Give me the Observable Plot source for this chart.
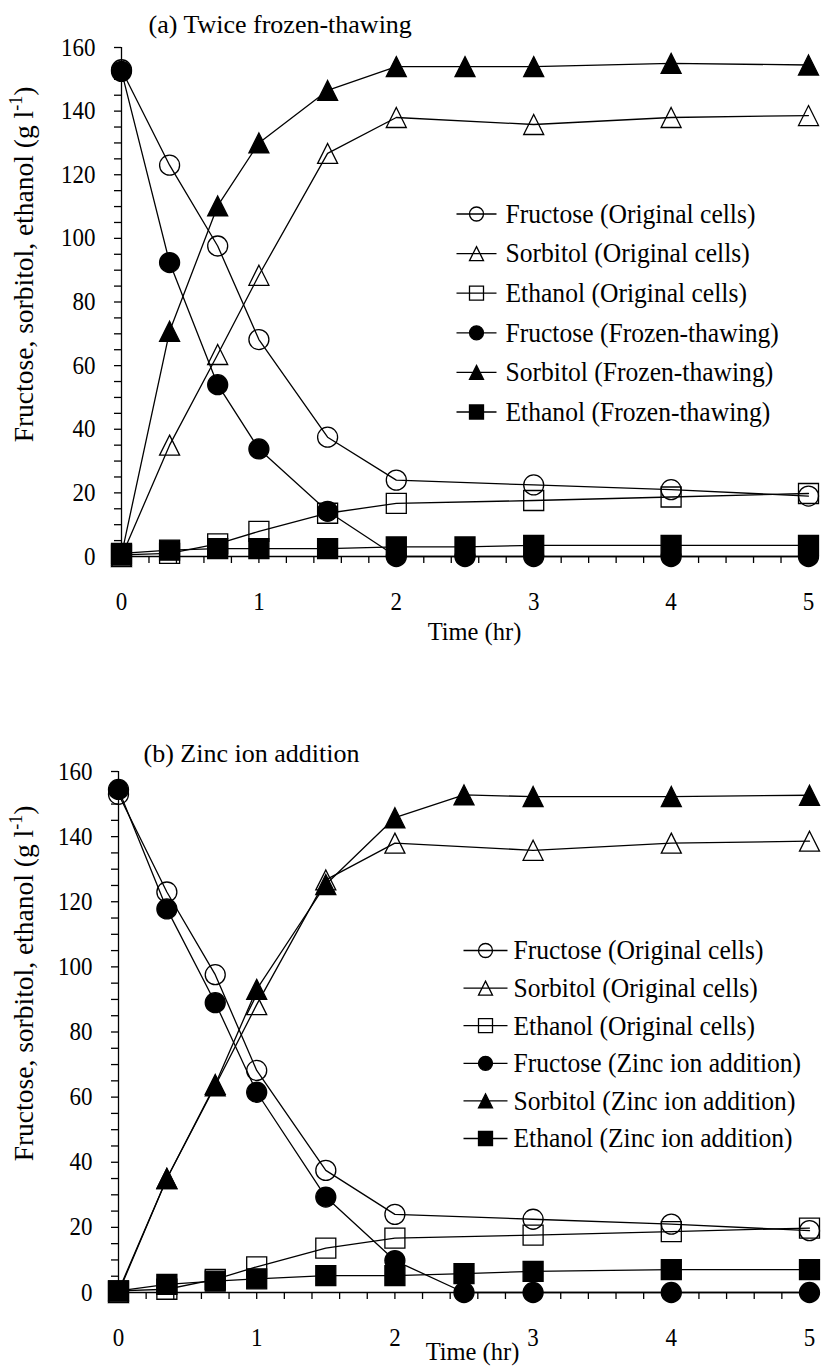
<!DOCTYPE html>
<html>
<head>
<meta charset="utf-8">
<script src="https://cdn.jsdelivr.net/npm/d3@7"></script>
<script src="https://cdn.jsdelivr.net/npm/@observablehq/plot@0.6"></script>
<style>
  html, body { margin: 0; padding: 0; background: #fff; overflow: hidden; }
  #chart svg { display: block; }
  #chart svg, #chart svg text, #chart svg tspan {
    font-family: "Liberation Serif", "Times New Roman", serif !important;
  }
</style>
</head>
<body>
<div id="chart"></div>
<script>
// Sampling times (hr)
const timeOriginal = [0, 0.35, 0.7, 1, 1.5, 2, 3, 4, 5];
const timeTreated  = [0, 0.35, 0.7, 1, 1.5, 2, 2.5, 3, 4, 5];

// Original cells (g l-1)
const fructoseOriginal = [153, 123, 97.6, 68.2, 37.5, 24, 22.5, 21, 19];
const sorbitolOriginal = [0, 35, 63.5, 88.4, 126.7, 138, 135.8, 138, 138.6];
const ethanolOriginal  = [0.5, 1, 4, 7.9, 13.6, 16.7, 17.6, 18.7, 19.8];

// Twice frozen-thawing cells (g l-1)
const fructoseFrozen = [152.5, 92.4, 54, 33.8, 14.2, 0, 0, 0, 0, 0];
const sorbitolFrozen = [0.5, 70.8, 110.2, 130, 146.5, 154, 154, 154, 155, 154.5];
const ethanolFrozen  = [1, 2, 2.5, 2.5, 2.5, 3, 3, 3.5, 3.5, 3.5];

// Zinc ion addition (g l-1)
const fructoseZinc = [154.5, 117.8, 89, 61.5, 29.3, 9.8, 0, 0, 0, 0];
const sorbitolZinc = [0.5, 35, 63.9, 93.1, 125.3, 145.8, 152.8, 152.3, 152.3, 152.7];
const ethanolZinc  = [0.5, 2.5, 3.5, 4.2, 5.2, 5.2, 5.8, 6.5, 7, 7];

// Axis ticks
const yTicks = d3.range(0, 33).map(i => i * 5);
const xTicks = d3.range(0, 26).map(i => i / 5);

const panelTitles = ["(a) Twice frozen-thawing", "(b) Zinc ion addition"];
const treatmentNames = ["Frozen-thawing", "Zinc ion addition"];
const xLabel = "Time (hr)";
const yLabel = "Fructose, sorbitol, ethanol (g l";
const yLabelSup = "-1";

// Marker shapes drawn around the point; optional horizontal line for legend keys
function makeSymbol(shape, lineHalf = 0) {
  return {
    draw(ctx, size) {
      const r = Math.sqrt(size / Math.PI);
      if (lineHalf) { ctx.moveTo(-lineHalf, 0); ctx.lineTo(lineHalf, 0); }
      if (shape === "circle") {
        ctx.moveTo(r, 0);
        ctx.arc(0, 0, r, 0, 2 * Math.PI);
      } else if (shape === "square") {
        ctx.rect(-r, -r, 2 * r, 2 * r);
      } else {
        ctx.moveTo(0, -r);
        ctx.lineTo(r, r);
        ctx.lineTo(-r, r);
        ctx.closePath();
      }
    }
  };
}

function seriesFor(treatment, fru, sor, eth) {
  return [
    {label: "Fructose (Original cells)", times: timeOriginal, values: fructoseOriginal, shape: "circle", filled: false},
    {label: "Sorbitol (Original cells)", times: timeOriginal, values: sorbitolOriginal, shape: "triangle", filled: false},
    {label: "Ethanol (Original cells)", times: timeOriginal, values: ethanolOriginal, shape: "square", filled: false},
    {label: `Fructose (${treatment})`, times: timeTreated, values: fru, shape: "circle", filled: true},
    {label: `Sorbitol (${treatment})`, times: timeTreated, values: sor, shape: "triangle", filled: true},
    {label: `Ethanol (${treatment})`, times: timeTreated, values: eth, shape: "square", filled: true}
  ];
}

const panels = [
  {
    title: panelTitles[0],
    series: seriesFor(treatmentNames[0], fructoseFrozen, sorbitolFrozen, ethanolFrozen),
    height: 660, marginTop: 47, marginBottom: 104, marginLeft: 121, marginRight: 13,
    titleOffset: [27, -23], xLabelOffset: [353, 76], yLabelOffset: [-97, 217],
    legend: {top: 166.5, gap: 39.6, marker: 355, half: 20, text: 384}
  },
  {
    title: panelTitles[1],
    series: seriesFor(treatmentNames[1], fructoseZinc, sorbitolZinc, ethanolZinc),
    height: 712, marginTop: 111, marginBottom: 80, marginLeft: 118, marginRight: 12,
    titleOffset: [25, -18], xLabelOffset: [354, 60], yLabelOffset: [-94, 212],
    legend: {top: 179, gap: 37.6, marker: 367, half: 22, text: 395}
  }
];

const FONT = "Liberation Serif, Times New Roman, serif";

// Narrow the set width of a text element around its anchor
function condenseText(t, sx) {
  const tr = t.getAttribute("transform");
  if (tr) {
    t.setAttribute("transform", `${tr} scale(${sx},1)`);
  } else {
    const x = +t.getAttribute("x") || 0, y = +t.getAttribute("y") || 0;
    t.removeAttribute("x"); t.removeAttribute("y");
    t.setAttribute("transform", `translate(${x},${y}) scale(${sx},1)`);
  }
}

function drawPanel(p) {
  const rows = p.series.flatMap(s => s.times.map((t, i) => ({series: s.label, t, v: s.values[i]})));
  const lg = p.legend;

  const marks = [
    Plot.ruleX([0], {stroke: "black", strokeWidth: 1.3}),
    Plot.ruleY([0], {stroke: "black", strokeWidth: 1.3}),
    Plot.axisY({
      ticks: yTicks, tickSize: 7, tickPadding: 19, strokeWidth: 1.3,
      tickFormat: d => (d % 20 === 0 ? String(d) : ""), label: null, fontSize: 25
    }),
    Plot.axisX({
      ticks: xTicks, tickSize: 7, tickPadding: 29, strokeWidth: 1.3,
      tickFormat: d => (Number.isInteger(d) ? String(d) : ""), label: null, fontSize: 25
    }),
    Plot.line(rows, {x: "t", y: "v", z: "series", stroke: "black", strokeWidth: 1.3}),
    ...p.series.map(s => Plot.dot(rows.filter(d => d.series === s.label), {
      x: "t", y: "v", r: 10, symbol: makeSymbol(s.shape),
      fill: s.filled ? "black" : "none", stroke: "black", strokeWidth: 1.3
    })),
    // legend keys
    ...p.series.map((s, i) => Plot.dot([s], {
      frameAnchor: "top-left", dx: lg.marker, dy: lg.top + i * lg.gap, r: 7,
      symbol: makeSymbol(s.shape, lg.half),
      fill: s.filled ? "black" : "none", stroke: "black", strokeWidth: 1.3
    })),
    ...p.series.map((s, i) => Plot.text([s], {
      frameAnchor: "top-left", dx: lg.text, dy: lg.top + i * lg.gap,
      text: d => d.label, textAnchor: "start", lineAnchor: "middle",
      fontSize: 27.5, fill: "black"
    })),
    Plot.text([p.title], {
      frameAnchor: "top-left", dx: p.titleOffset[0], dy: p.titleOffset[1],
      text: d => d, textAnchor: "start", lineAnchor: "middle", fontSize: 26, fill: "black"
    }),
    Plot.text([xLabel], {
      frameAnchor: "bottom-left", dx: p.xLabelOffset[0], dy: p.xLabelOffset[1],
      text: d => d, textAnchor: "middle", lineAnchor: "middle", fontSize: 24.5, fill: "black"
    }),
    Plot.text([yLabel], {
      frameAnchor: "top-left", dx: p.yLabelOffset[0], dy: p.yLabelOffset[1], rotate: -90,
      text: d => d, textAnchor: "middle", lineAnchor: "middle", fontSize: 27.5, fill: "black"
    })
  ];

  const svg = Plot.plot({
    width: 821,
    height: p.height,
    marginTop: p.marginTop,
    marginBottom: p.marginBottom,
    marginLeft: p.marginLeft,
    marginRight: p.marginRight,
    x: {domain: [0, 5]},
    y: {domain: [0, 160]},
    style: {fontFamily: FONT, fontSize: "25px", color: "black", background: "white", overflow: "visible"},
    marks
  });

  const legendLabels = new Set(p.series.map(s => s.label));
  svg.querySelectorAll("text").forEach(t => {
    const txt = t.textContent;
    const group = t.parentNode && t.parentNode.getAttribute("aria-label");
    if (legendLabels.has(txt)) condenseText(t, 0.93);
    else if (group === "y-axis tick label" || group === "x-axis tick label") condenseText(t, 0.92);
    else if (txt === yLabel) {
      // superscript on the unit of the y label
      const ns = "http://www.w3.org/2000/svg";
      t.textContent = "";
      const a = document.createElementNS(ns, "tspan");
      a.textContent = yLabel;
      const b = document.createElementNS(ns, "tspan");
      b.textContent = yLabelSup;
      b.setAttribute("font-size", "18");
      b.setAttribute("dy", "-11");
      const c = document.createElementNS(ns, "tspan");
      c.textContent = ")";
      c.setAttribute("dy", "11");
      t.append(a, b, c);
    }
  });
  return svg;
}

const root = document.getElementById("chart");
panels.forEach(p => root.appendChild(drawPanel(p)));
</script>
</body>
</html>
